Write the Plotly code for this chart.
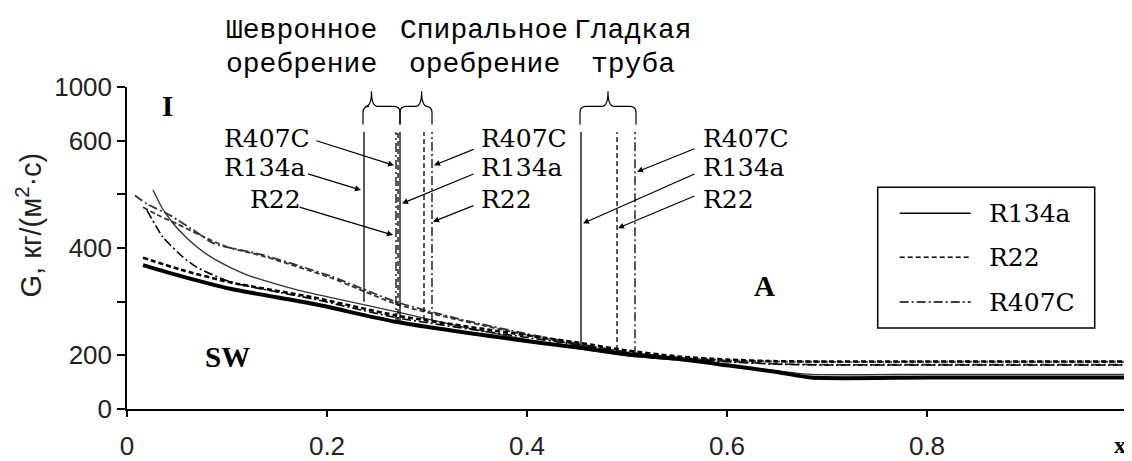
import numpy as np
import plotly.graph_objects as go

# ---------------- axis scales ----------------
G_scale = [0, 200, 300, 400, 500, 600, 1000]        # scale break points (equally spaced on the axis)
y_label_G = [0, 200, 400, 600, 1000]
y_minor_G = [300, 500]
x_ticks = [0, 0.2, 0.4, 0.6, 0.8]
x_tick_text = ["0", "0.2", "0.4", "0.6", "0.8"]
x_minor = [1.0]


def gpos(g):
    """Position of a mass flux value on the (non-uniform) G axis."""
    return np.interp(g, G_scale, np.arange(len(G_scale)))


# ---------------- transition curves ----------------
r134a_up_x = [0.026, 0.035, 0.046, 0.058, 0.07, 0.085, 0.103, 0.12, 0.136, 0.17, 0.203, 0.24,
              0.27, 0.3, 0.333, 0.37, 0.403, 0.45, 0.5, 0.55, 0.6, 0.65, 0.684, 0.8, 1.0]
r134a_up_G = [508, 475, 446, 422, 402, 382, 364, 350, 340, 322, 308, 293,
              281, 268, 254, 240, 228, 213, 198, 183, 164, 142, 129, 129, 129]

r22_up_x = [0.016, 0.03, 0.05, 0.073, 0.1, 0.136, 0.203, 0.27, 0.336, 0.4, 0.45, 0.5,
            0.55, 0.6, 0.65, 0.7, 0.8, 1.0]
r22_up_G = [476, 462, 445, 424, 402, 385, 345, 295, 264, 238, 220, 205,
            192, 182, 177, 176, 176, 176]

r407c_up_x = [0.008, 0.02, 0.043, 0.07, 0.086, 0.136, 0.203, 0.27, 0.336, 0.4, 0.45, 0.5,
              0.55, 0.6, 0.65, 0.7, 0.8, 1.0]
r407c_up_G = [498, 482, 461, 429, 409, 387, 348, 299, 266, 240, 222, 206,
              191, 178, 168, 165, 165, 165]

r134a_lo_x = [0.016, 0.053, 0.103, 0.186, 0.27, 0.386, 0.453, 0.5, 0.55, 0.6, 0.65, 0.684, 0.8, 1.0]
r134a_lo_G = [368, 348, 324, 296, 262, 230, 214, 202, 187, 163, 138, 117, 117, 117]

r22_lo_x = [0.016, 0.053, 0.103, 0.186, 0.27, 0.386, 0.453, 0.5, 0.55, 0.6, 0.65, 0.7, 0.8, 1.0]
r22_lo_G = [382, 360, 336, 308, 274, 241, 223, 209, 196, 184, 178, 177, 177, 177]

r407c_lo_x = [0.02, 0.036, 0.056, 0.07, 0.103, 0.186, 0.27, 0.386, 0.453, 0.5, 0.55, 0.6,
              0.65, 0.7, 0.8, 1.0]
r407c_lo_G = [470, 420, 383, 364, 337, 305, 270, 237, 219, 205, 190, 176,
              167, 164, 164, 164]

# ---------------- vertical boundaries (tube types) ----------------
bnd_x = [0.237, 0.269, 0.271, 0.273, 0.297, 0.305, 0.454, 0.490, 0.508]
bnd_ref = ["R134a", "R407C", "R22", "R134a", "R22", "R407C", "R134a", "R22", "R407C"]
bnd_G_bottom = [300, 262, 262, 262, 266, 264, 214, 210, 200]
bnd_G_top = 665

# braces grouping boundaries: (left x, right x, peak x)
brace_x0 = [0.236, 0.273, 0.453]
brace_x1 = [0.273, 0.305, 0.509]
brace_xp = [0.2445, 0.2946, 0.481]
group_names = [["Шевронное", "оребрение"], ["Спиральное", "оребрение"], ["Гладкая", "труба"]]
group_text_x = [0.174, 0.357, 0.506]

refs = ["R134a", "R22", "R407C"]
dash_of = {"R134a": "solid", "R22": "5px,3px", "R407C": "9px,3px,2px,3px"}

SERIF = "DejaVu Serif"
MONO = "Liberation Mono"
SANS = "Liberation Sans"

fig = go.Figure()

upper = {"R134a": (r134a_up_x, r134a_up_G), "R22": (r22_up_x, r22_up_G), "R407C": (r407c_up_x, r407c_up_G)}
lower = {"R134a": (r134a_lo_x, r134a_lo_G), "R22": (r22_lo_x, r22_lo_G), "R407C": (r407c_lo_x, r407c_lo_G)}
upper_width = {"R134a": 1.4, "R22": 1.8, "R407C": 1.8}
lower_width = {"R134a": 4.0, "R22": 2.6, "R407C": 1.6}

for r in refs:
    x, g = upper[r]
    fig.add_trace(go.Scatter(x=x, y=gpos(g), mode="lines", name=r, showlegend=False,
                             line=dict(color="#333333", width=upper_width[r], dash=dash_of[r],
                                       shape="spline", smoothing=0.6),
                             hoverinfo="skip"))
for r in refs:
    x, g = lower[r]
    fig.add_trace(go.Scatter(x=x, y=gpos(g), mode="lines", name=r, showlegend=False,
                             line=dict(color="black", width=lower_width[r], dash=dash_of[r],
                                       shape="spline", smoothing=0.6),
                             hoverinfo="skip"))

for xb, r, gb in zip(bnd_x, bnd_ref, bnd_G_bottom):
    fig.add_trace(go.Scatter(x=[xb, xb], y=gpos([gb, bnd_G_top]), mode="lines", showlegend=False,
                             line=dict(color="black", width=1.3, dash=dash_of[r]), hoverinfo="skip"))

# braces
u_end, u_h, u_top = 5.30, 5.64, 5.92
rx, ru = 0.006, 0.12
for x0, x1, xp in zip(brace_x0, brace_x1, brace_xp):
    path = (f"M{x0},{u_end} L{x0},{u_h - ru} Q{x0},{u_h} {x0 + rx},{u_h} "
            f"L{xp - rx},{u_h} Q{xp},{u_h} {xp},{u_top} Q{xp},{u_h} {xp + rx},{u_h} "
            f"L{x1 - rx},{u_h} Q{x1},{u_h} {x1},{u_h - ru} L{x1},{u_end}")
    fig.add_shape(type="path", path=path, xref="x", yref="y", line=dict(color="black", width=1.2))

annotations = []
for names, tx in zip(group_names, group_text_x):
    for txt, ty in zip(names, [1.176, 1.070]):
        annotations.append(dict(x=tx, y=ty, xref="paper", yref="paper", text=txt, showarrow=False,
                                xanchor="center", yanchor="middle",
                                font=dict(family=MONO, size=28, color="black")))

# refrigerant labels with arrows: (label x, arrow tail x, tail G, head x, head G)
label_rows = {"R407C": 614, "R134a": 550, "R22": 491}
label_groups = [
    {"R407C": (0.095, 0.188, 603, 0.267, 554), "R134a": (0.095, 0.1795, 539, 0.234, 508),
     "R22": (0.121, 0.171, 477, 0.266, 424)},
    {"R407C": (0.352, 0.348, 585, 0.307, 554), "R134a": (0.352, 0.348, 539, 0.275, 483),
     "R22": (0.352, 0.348, 480, 0.306, 449)},
    {"R407C": (0.574, 0.569, 586, 0.510, 542), "R134a": (0.574, 0.569, 539, 0.456, 446),
     "R22": (0.574, 0.569, 498, 0.491, 437)},
]
for grp in label_groups:
    for r, (lx, tx, tg, hx, hg) in grp.items():
        annotations.append(dict(x=lx, y=gpos(label_rows[r]), xref="x", yref="y", text=r, showarrow=False,
                                xanchor="left", yanchor="middle", font=dict(family=SERIF, size=25, color="black")))
        annotations.append(dict(x=hx, y=gpos(hg), ax=tx, ay=gpos(tg), xref="x", yref="y", axref="x", ayref="y",
                                text="", showarrow=True, arrowhead=2, arrowsize=1, arrowwidth=1.2,
                                arrowcolor="black"))

# flow regime labels
for txt, px, py in [("I", 0.040, 0.94), ("SW", 0.100, 0.161), ("A", 0.637, 0.382)]:
    annotations.append(dict(x=px, y=py, xref="paper", yref="paper", text=f"<b>{txt}</b>", showarrow=False,
                            xanchor="center", yanchor="middle",
                            font=dict(family="Liberation Serif", size=29, color="black")))

annotations.append(dict(x=0.993, y=-0.113, xref="paper", yref="paper", text="<b>x</b>", showarrow=False,
                        xanchor="center", yanchor="middle",
                        font=dict(family="Liberation Serif", size=24, color="black")))
annotations.append(dict(x=-0.098, y=0.57, xref="paper", yref="paper", text="G, кг/(м<sup>2</sup>·с)",
                        textangle=-90, showarrow=False, xanchor="center", yanchor="middle",
                        font=dict(family=SANS, size=29, color="#222")))

# ---------------- legend (boxed, drawn in paper space) ----------------
leg_box = dict(x0=0.7507, x1=0.9677, y0=0.2513, y1=0.6888)
leg_rows = [0.6081, 0.4716, 0.3320]
leg_line_x = (0.7727, 0.8437)
leg_text_x = 0.8597
fig.add_shape(type="rect", xref="paper", yref="paper", line=dict(color="black", width=1.5),
              fillcolor="white", layer="above", **leg_box)
for r, ly in zip(refs, leg_rows):
    fig.add_shape(type="line", xref="paper", yref="paper", x0=leg_line_x[0], x1=leg_line_x[1], y0=ly, y1=ly,
                  line=dict(color="black", width=1.5, dash=dash_of[r]), layer="above")
    annotations.append(dict(x=leg_text_x, y=ly, xref="paper", yref="paper", text=r, showarrow=False,
                            xanchor="left", yanchor="middle", font=dict(family=SERIF, size=25, color="black")))

axis_common = dict(showgrid=False, zeroline=False, showline=True, linecolor="black", linewidth=1.5,
                   ticks="outside", tickwidth=1.5, tickcolor="black", automargin=False,
                   tickfont=dict(family=SANS, size=26, color="#222"))

fig.update_layout(
    width=1124, height=453,
    margin=dict(l=119, r=5, t=79, b=52),
    paper_bgcolor="white", plot_bgcolor="white",
    annotations=annotations,
    showlegend=False,
    xaxis=dict(range=[0, 1], tickvals=x_ticks, ticktext=x_tick_text, ticklen=6, ticklabelstandoff=7,
               minor=dict(tickvals=x_minor, ticks="outside", ticklen=6, tickwidth=1.5, tickcolor="black"),
               **axis_common),
    yaxis=dict(range=[0, 6], tickvals=list(gpos(y_label_G)), ticktext=[str(v) for v in y_label_G], ticklen=8,
               ticklabelstandoff=0,
               minor=dict(tickvals=list(gpos(y_minor_G)), ticks="outside", ticklen=8, tickwidth=1.5,
                          tickcolor="black"),
               **axis_common),
)

fig.write_html("out.html")
